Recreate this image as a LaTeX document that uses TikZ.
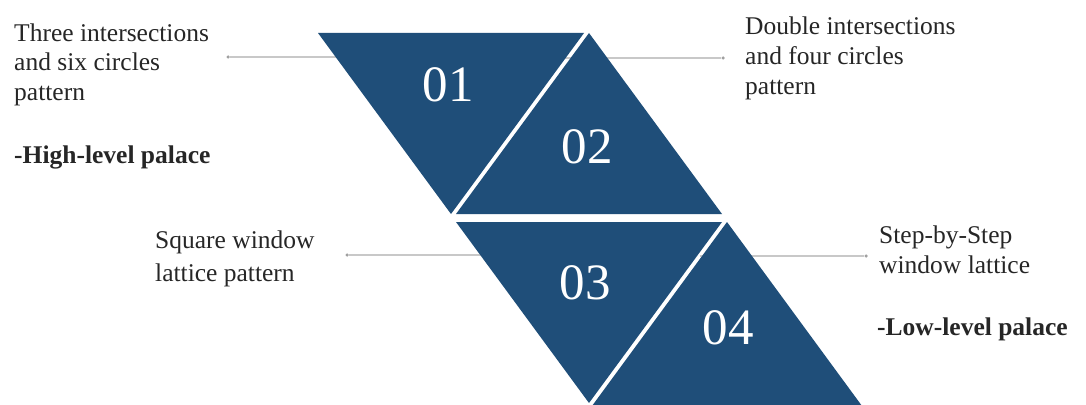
\documentclass[tikz,border=0pt]{standalone}
\usepackage{fontspec}
\setmainfont{Liberation Serif}
\definecolor{tri}{HTML}{1F4E79}
\definecolor{connc}{HTML}{C8C8C8}
\definecolor{dotc}{HTML}{A0A0A0}
\definecolor{txt}{HTML}{262626}
\begin{document}
\begin{tikzpicture}[x=1pt,y=-1pt,
  tribox/.style={fill=tri},
  num/.style={text=white,font=\fontsize{51}{51}\selectfont,inner sep=0},
  lbl/.style={font=\fontsize{25.5}{29.5}\selectfont, align=left, anchor=base west, inner sep=0, text=txt},
  boldlbl/.style={lbl,font=\fontsize{25.5}{29.5}\selectfont\bfseries},
  connline/.style={draw=connc,line width=1.4pt},
  enddot/.style={circle,fill=dotc,inner sep=0,minimum size=3.5pt}]
\useasboundingbox (0,0) rectangle (1086,404);
\fill[white] (0,0) rectangle (1086,404);
\begin{scope}
\clip (0,0) rectangle (1086,404);
% connectors (behind triangles)
\node[enddot] (d1) at (228,57) {};
\coordinate (c1) at (400,57);
\node[enddot] (d2) at (723,58) {};
\coordinate (c2) at (560,58);
\node[enddot] (d3) at (347,255) {};
\coordinate (c3) at (520,255);
\node[enddot] (d4) at (866,256) {};
\coordinate (c4) at (700,256);
\draw[connline] (d1) -- (c1);
\draw[connline] (c2) -- (d2);
\draw[connline] (d3) -- (c3);
\draw[connline] (c4) -- (d4);
% triangles
\fill[tribox] (318,33) -- (584,33) -- (451,214) -- cycle;
\fill[tribox] (589,33) -- (456,214) -- (722,214) -- cycle;
\fill[tribox] (456,222) -- (722,222) -- (589,403) -- cycle;
\fill[tribox] (727,222) -- (592,406) -- (862,406) -- cycle;
\end{scope}
% numbers
\node[num] (n1) at (448,85) {01};
\node[num] (n2) at (587,147) {02};
\node[num] (n3) at (585,283) {03};
\node[num] (n4) at (728,328) {04};
% labels (base anchor = last line's baseline)
\node[lbl] (t1) at (14,100) {Three intersections\\and six circles\\pattern};
\node[boldlbl] (h1) at (14,163) {-High-level palace};
\node[lbl] (t2) at (745,94) {Double intersections\\and four circles\\pattern};
\node[lbl,font=\fontsize{25.5}{32.5}\selectfont] (t3) at (155,281) {Square window\\lattice pattern};
\node[lbl,font=\fontsize{25.5}{30}\selectfont] (t4) at (879,273) {Step-by-Step\\window lattice};
\node[boldlbl] (l4) at (877,335) {-Low-level palace};
\end{tikzpicture}
\end{document}
